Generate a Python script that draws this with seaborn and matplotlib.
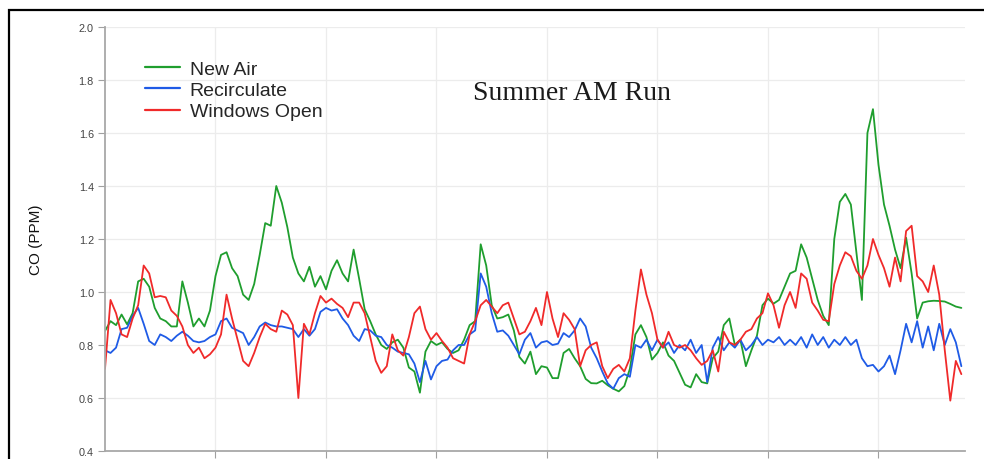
import numpy as np
import pandas as pd
import seaborn as sns
import matplotlib
matplotlib.use("Agg")
import matplotlib.pyplot as plt
from matplotlib.patches import Rectangle

# CO readings (ppm), one sample every half minute
SAMPLE_MIN = 0.5

new_air = [
    0.853, 0.89, 0.875, 0.915, 0.878, 0.92, 1.04, 1.05, 1.02, 0.94,
    0.90, 0.89, 0.87, 0.87, 1.04, 0.96, 0.87, 0.90, 0.87, 0.93,
    1.06, 1.14, 1.15, 1.09, 1.06, 0.99, 0.97, 1.03, 1.14, 1.26,
    1.25, 1.40,
    1.337, 1.245, 1.13, 1.07, 1.04, 1.095, 1.02, 1.06, 1.01, 1.08,
    1.12, 1.07, 1.04, 1.16, 1.05, 0.935, 0.89, 0.84, 0.80, 0.785,
    0.81, 0.82, 0.79, 0.715, 0.70, 0.62, 0.775, 0.815, 0.80, 0.81, 0.785,
    0.77,
    0.78, 0.82, 0.875, 0.89, 1.18, 1.10, 0.95, 0.90, 0.905, 0.915,
    0.855, 0.755, 0.73, 0.775, 0.69, 0.72, 0.715, 0.675, 0.675, 0.77,
    0.785, 0.75, 0.72, 0.672, 0.656, 0.655, 0.665, 0.648, 0.635, 0.625,
    0.645, 0.71,
    0.84, 0.875, 0.83, 0.745, 0.77, 0.81, 0.76, 0.74, 0.695, 0.65,
    0.64, 0.69, 0.66, 0.655, 0.75, 0.775, 0.875, 0.90, 0.80, 0.82,
    0.72, 0.78, 0.835, 0.95, 0.975, 0.956, 0.97, 1.02, 1.07,
    1.08, 1.18, 1.13, 1.05, 0.97, 0.91, 0.875, 1.20, 1.34, 1.37,
    1.33, 1.15, 0.97, 1.60, 1.69, 1.48, 1.33, 1.25, 1.16, 1.09,
    1.205, 1.07, 0.90, 0.96, 0.965, 0.967, 0.966, 0.964, 0.955, 0.945, 0.94,
]

recirculate = [
    0.78, 0.77, 0.79, 0.86, 0.865, 0.91, 0.94, 0.88, 0.815, 0.80,
    0.84, 0.83, 0.815, 0.835, 0.85, 0.835, 0.815, 0.81, 0.815, 0.83,
    0.84, 0.89, 0.90, 0.865, 0.855, 0.845, 0.80, 0.83, 0.87, 0.885,
    0.875, 0.87,
    0.87, 0.865, 0.86, 0.83, 0.86, 0.835, 0.86, 0.925, 0.94, 0.93,
    0.935, 0.90, 0.875, 0.835, 0.815, 0.86, 0.855, 0.835, 0.83, 0.80,
    0.79, 0.775, 0.77, 0.765, 0.73, 0.66, 0.74, 0.67, 0.72, 0.74, 0.745,
    0.78,
    0.80, 0.80, 0.84, 0.855, 1.07, 1.02, 0.92, 0.85, 0.855, 0.835,
    0.80, 0.765, 0.82, 0.845, 0.79, 0.81, 0.815, 0.80, 0.805, 0.845,
    0.83, 0.855, 0.90, 0.87, 0.79, 0.75, 0.70, 0.655, 0.635, 0.675,
    0.69, 0.68,
    0.80, 0.79, 0.82, 0.78, 0.82, 0.79, 0.81, 0.77, 0.80, 0.78,
    0.82, 0.77, 0.80, 0.66, 0.79, 0.83, 0.78, 0.81, 0.79, 0.82,
    0.78, 0.80, 0.83, 0.80, 0.82, 0.81, 0.83, 0.80, 0.82,
    0.80, 0.83, 0.79, 0.84, 0.80, 0.83, 0.79, 0.82, 0.80, 0.83,
    0.80, 0.82, 0.75, 0.72, 0.725, 0.70, 0.72, 0.76, 0.69, 0.78,
    0.88, 0.81, 0.89, 0.79, 0.87, 0.78, 0.88, 0.80, 0.86, 0.81, 0.72,
]

windows_open = [
    0.71, 0.97, 0.92, 0.84, 0.83, 0.90, 0.95, 1.10, 1.07, 0.98,
    0.985, 0.98, 0.93, 0.91, 0.87, 0.80, 0.77, 0.79, 0.75, 0.765,
    0.79, 0.84, 0.99, 0.90, 0.82, 0.74, 0.72, 0.77, 0.83, 0.88,
    0.86, 0.85,
    0.93, 0.915, 0.875, 0.60, 0.88, 0.84, 0.92, 0.985, 0.96, 0.975,
    0.955, 0.94, 0.905, 0.96, 0.96, 0.92, 0.83, 0.74, 0.695, 0.72,
    0.84, 0.78, 0.76, 0.83, 0.92, 0.945, 0.86, 0.82, 0.845, 0.815, 0.79,
    0.75,
    0.74, 0.73, 0.84, 0.89, 0.95, 0.97, 0.945, 0.92, 0.95, 0.96,
    0.90, 0.84, 0.85, 0.89, 0.94, 0.875, 1.00, 0.90, 0.83, 0.92,
    0.895, 0.86, 0.72, 0.78, 0.80, 0.81, 0.72, 0.675, 0.71, 0.725,
    0.70, 0.75,
    0.93, 1.085, 0.99, 0.92, 0.82, 0.79, 0.85, 0.80, 0.79, 0.80,
    0.78, 0.75, 0.725, 0.74, 0.78, 0.70, 0.85, 0.81, 0.80, 0.82,
    0.85, 0.86, 0.90, 0.92, 0.995, 0.95, 0.865, 0.95, 1.00,
    0.94, 1.07, 1.05, 0.96, 0.93, 0.895, 0.89, 1.03, 1.10, 1.15,
    1.135, 1.08, 1.05, 1.10, 1.20, 1.14, 1.09, 1.02, 1.13, 1.04,
    1.23, 1.25, 1.06, 1.04, 1.00, 1.10, 0.99, 0.78, 0.59, 0.74, 0.69,
]

series_names = ["New Air", "Recirculate", "Windows Open"]
series_colors = ["#1f9e2e", "#1f5be6", "#f02a2a"]
y_ticks = [0.4, 0.6, 0.8, 1.0, 1.2, 1.4, 1.6, 1.8, 2.0]
x_ticks = [10, 20, 30, 40, 50, 60, 70]

frames = []
for name, vals in zip(series_names, [new_air, recirculate, windows_open]):
    frames.append(pd.DataFrame({
        "minutes": np.arange(len(vals)) * SAMPLE_MIN,
        "CO": vals,
        "mode": name,
    }))
df = pd.concat(frames, ignore_index=True)

sns.set_style("white")
plt.rcParams["font.family"] = ["Liberation Sans", "DejaVu Sans"]

W, H = 984, 460
fig = plt.figure(figsize=(W / 100, H / 100), dpi=100)
ax = fig.add_axes([105 / W, 8 / H, 860 / W, 424 / H])

sns.lineplot(
    data=df, x="minutes", y="CO", hue="mode", hue_order=series_names,
    palette=dict(zip(series_names, series_colors)),
    linewidth=1.3, estimator=None, sort=False, ax=ax,
)

ax.set_xlim(0, 77.83)
ax.set_ylim(0.4, 2.0)
ax.set_xticks(x_ticks)
ax.set_yticks(y_ticks)
ax.set_yticklabels([f"{v:.1f}" for v in y_ticks])
ax.grid(True, color="#ececec", linewidth=0.9)
ax.set_axisbelow(True)

for side in ("top", "right"):
    ax.spines[side].set_visible(False)
for side in ("left", "bottom"):
    ax.spines[side].set_color("#a8a8a8")
    ax.spines[side].set_linewidth(1.3)

ax.tick_params(axis="y", length=5, width=0.8, color="#a0a0a0",
               labelsize=7.8, labelcolor="#444444", pad=3, left=True)
ax.tick_params(axis="x", length=5, width=0.8, color="#a0a0a0",
               labelbottom=False, bottom=True)

ax.set_xlabel("")
ax.set_ylabel("CO (PPM)", fontsize=11, color="#111111")
ax.yaxis.set_label_coords(-0.072, 0.5)

leg = ax.legend(
    loc="upper left", bbox_to_anchor=(0.0465, 0.921), frameon=False,
    fontsize=14, handlelength=1.8, handletextpad=0.5, labelspacing=0.18,
    borderpad=0, borderaxespad=0,
)
for line in leg.get_lines():
    line.set_linewidth(1.6)

ax.text(0.543, 0.845, "Summer AM Run", transform=ax.transAxes,
        ha="center", va="center", fontsize=20, color="#1a1a1a",
        family=["Liberation Serif", "DejaVu Serif"])

# outer black frame around the panel
fig.patches.append(Rectangle(
    (9 / W, -0.2), 1.3, 1.2 - 11 / H, transform=fig.transFigure,
    fill=False, edgecolor="black", linewidth=1.6,
))

fig.savefig("out.png", dpi=100)
